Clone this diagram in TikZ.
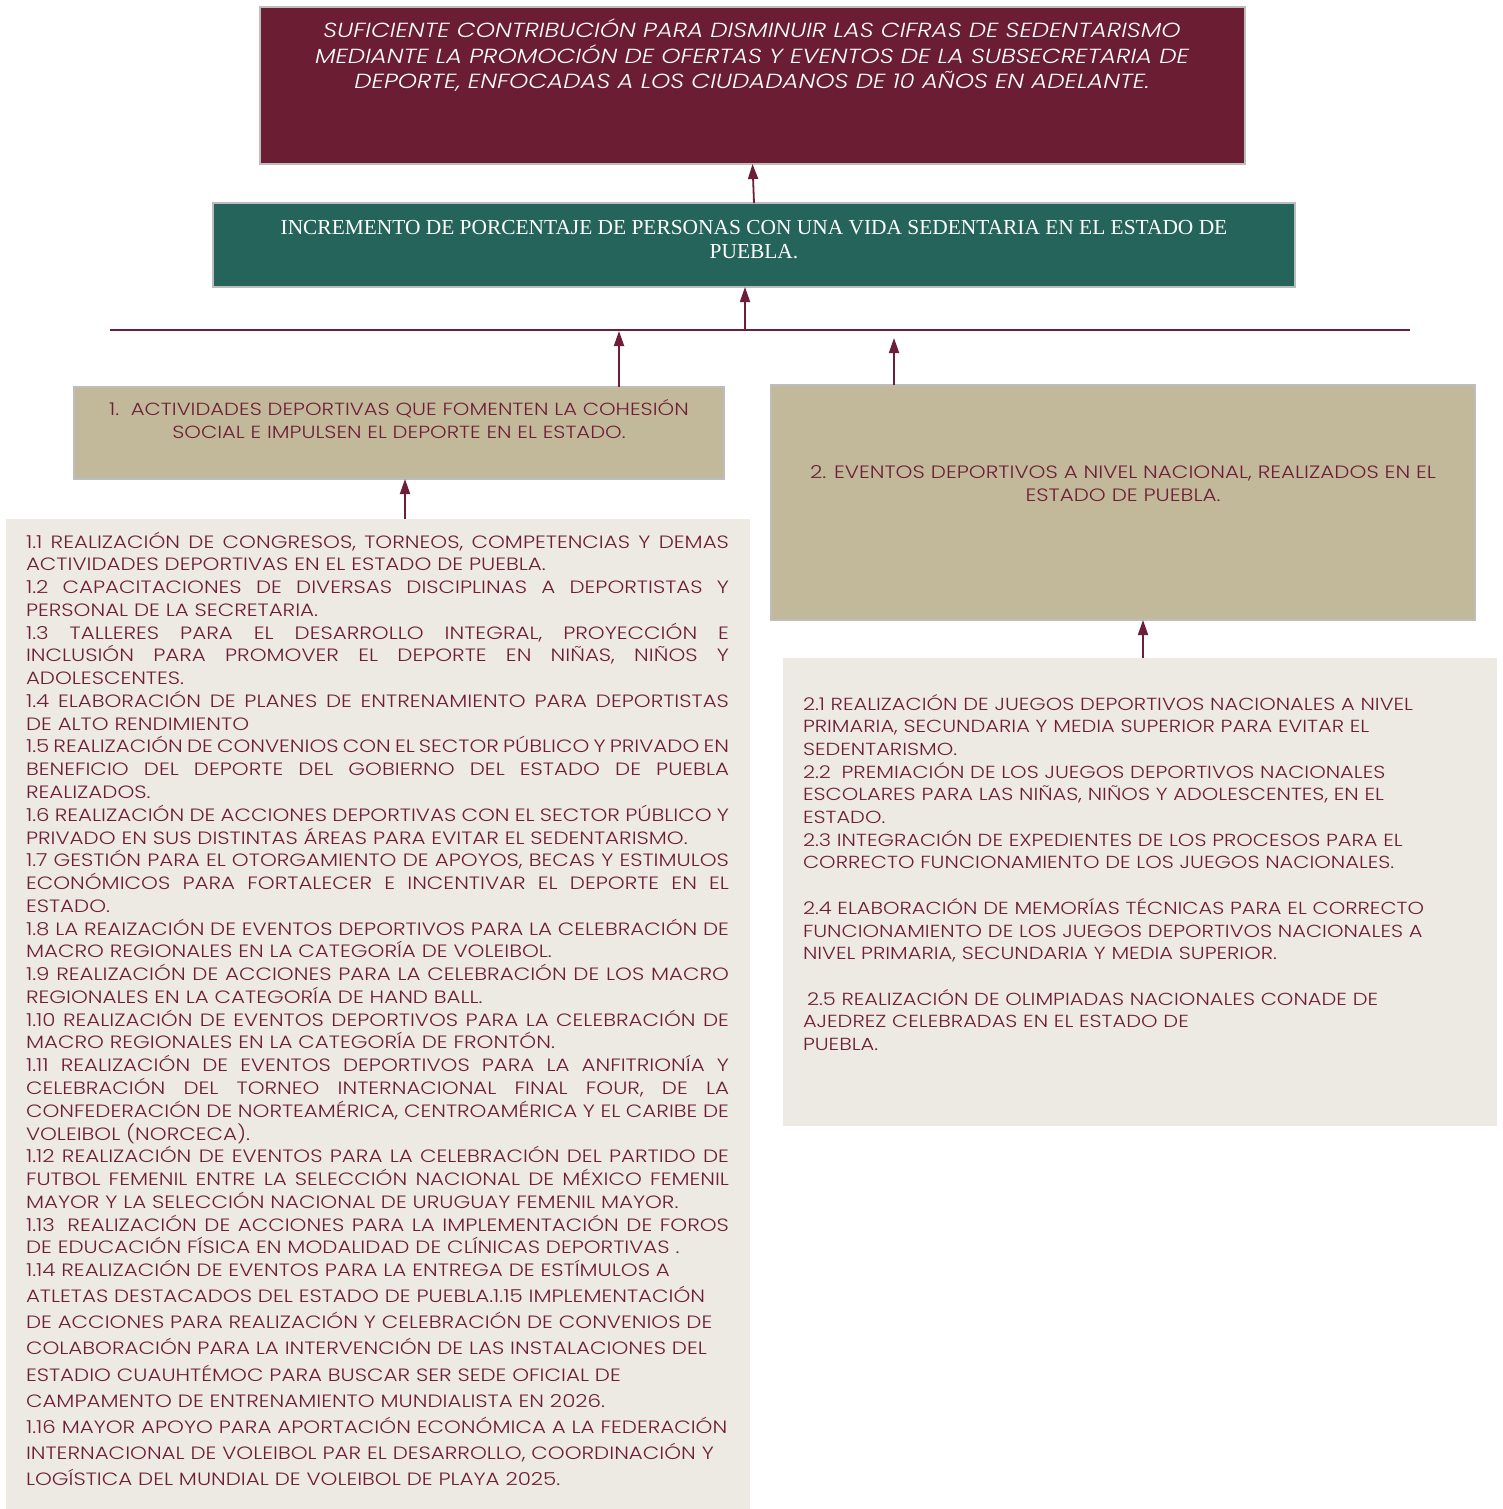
\documentclass[tikz,border=0pt]{standalone}
\usepackage{fontspec}
\setmainfont{Poppins}[FakeStretch=1.2]
\newfontfamily\lightfont{Poppins Light}[FakeStretch=1.2]
\newfontfamily\lightital{Poppins Light Italic}[FakeStretch=1.2]
\newfontfamily\greenserif{Liberation Serif}
\usetikzlibrary{arrows.meta}
\definecolor{goalred}{HTML}{6B1D33}
\definecolor{wine}{HTML}{6E1F37}
\definecolor{tealbox}{HTML}{24645A}
\definecolor{tanbox}{HTML}{C2B99B}
\definecolor{beigebox}{HTML}{EDE9E3}
\definecolor{edgegray}{HTML}{BDBDBD}
\newcommand{\jline}[1]{\hbox to \hsize{#1}}
\newcommand{\rline}[1]{\hbox{#1}}
\newcommand{\ctrline}[1]{\hbox to \hsize{\hfil #1\hfil}}
\begin{document}
\begin{tikzpicture}[x=1pt,y=-1pt,
  boxbase/.style={rectangle, inner sep=0pt, outer sep=0pt, anchor=north west},
  goalbox/.style={boxbase, fill=goalred, draw=edgegray, line width=1.6pt},
  purposebox/.style={boxbase, fill=tealbox, draw=edgegray, line width=1.6pt},
  compbox/.style={boxbase, fill=tanbox, draw=edgegray, line width=1.4pt},
  listbox/.style={boxbase, fill=beigebox},
  arr/.style={draw=wine, line width=1.8pt, -{Triangle[width=10pt,length=15pt]}},
  conn/.style={draw=wine, line width=1.8pt},
  txt/.style={inner sep=0pt, outer sep=0pt, anchor=base},
  txtw/.style={inner sep=0pt, outer sep=0pt, anchor=base west},
]
\fill[white] (0,0) rectangle (1502,1509);
\useasboundingbox (0,0) rectangle (1502,1509);

% boxes
\node[goalbox, minimum width=985pt, minimum height=157pt] (goal) at (260,7) {};
\node[purposebox, minimum width=1082pt, minimum height=84pt] (purpose) at (213,203) {};
\node[compbox, minimum width=650pt, minimum height=92pt] (comp1) at (74,387) {};
\node[compbox, minimum width=704pt, minimum height=235pt] (comp2) at (771,385) {};
\node[listbox, minimum width=744pt, minimum height=991pt] (list1) at (6,519) {};
\node[listbox, minimum width=714pt, minimum height=468pt] (list2) at (783,658) {};

% texts
\node[txt, text=white] (goaltext) at (752,38) {\vtop{\hsize=985pt\lightital
  \fontsize{20.4}{25.5}\selectfont
  \ctrline{SUFICIENTE CONTRIBUCIÓN PARA DISMINUIR LAS CIFRAS DE SEDENTARISMO}
  \ctrline{MEDIANTE LA PROMOCIÓN DE OFERTAS Y EVENTOS DE LA SUBSECRETARIA DE}
  \ctrline{DEPORTE, ENFOCADAS A LOS CIUDADANOS DE 10 AÑOS EN ADELANTE.}}};

\node[txt, text=white] (purposetext) at (754,234) {\vtop{\hsize=1082pt\greenserif
  \fontsize{21.4}{24}\selectfont
  \ctrline{INCREMENTO DE PORCENTAJE DE PERSONAS CON UNA VIDA SEDENTARIA EN EL ESTADO DE}
  \ctrline{PUEBLA.}}};

\node[txt, text=wine] (comp1text) at (399,415.5) {\vtop{\hsize=650pt\lightfont
  \fontsize{17.6}{23}\selectfont
  \ctrline{1.\hspace{4pt} ACTIVIDADES DEPORTIVAS QUE FOMENTEN LA COHESIÓN}
  \ctrline{SOCIAL E IMPULSEN EL DEPORTE EN EL ESTADO.}}};

\node[txt, text=wine] (comp2text) at (1123,478.5) {\vtop{\hsize=704pt\lightfont
  \fontsize{17.9}{23}\selectfont
  \ctrline{2. EVENTOS DEPORTIVOS A NIVEL NACIONAL, REALIZADOS EN EL}
  \ctrline{ESTADO DE PUEBLA.}}};

\node[txtw, text=wine] (list1text) at (26,548) {\vtop{\hsize=703pt\lightfont
  \fontsize{17.85}{22.77}\selectfont
  \jline{1.1 REALIZACIÓN DE CONGRESOS, TORNEOS, COMPETENCIAS Y DEMAS}
  \rline{ACTIVIDADES DEPORTIVAS EN EL ESTADO DE PUEBLA.}
  \jline{1.2 CAPACITACIONES DE DIVERSAS DISCIPLINAS A DEPORTISTAS Y}
  \rline{PERSONAL DE LA SECRETARIA.}
  \jline{1.3 TALLERES PARA EL DESARROLLO INTEGRAL, PROYECCIÓN E}
  \jline{INCLUSIÓN PARA PROMOVER EL DEPORTE EN NIÑAS, NIÑOS Y}
  \rline{ADOLESCENTES.}
  \jline{1.4 ELABORACIÓN DE PLANES DE ENTRENAMIENTO PARA DEPORTISTAS}
  \rline{DE ALTO RENDIMIENTO}
  \jline{1.5 REALIZACIÓN DE CONVENIOS CON EL SECTOR PÚBLICO Y PRIVADO EN}
  \jline{BENEFICIO DEL DEPORTE DEL GOBIERNO DEL ESTADO DE PUEBLA}
  \rline{REALIZADOS.}
  \jline{1.6 REALIZACIÓN DE ACCIONES DEPORTIVAS CON EL SECTOR PÚBLICO Y}
  \rline{PRIVADO EN SUS DISTINTAS ÁREAS PARA EVITAR EL SEDENTARISMO.}
  \jline{1.7 GESTIÓN PARA EL OTORGAMIENTO DE APOYOS, BECAS Y ESTIMULOS}
  \jline{ECONÓMICOS PARA FORTALECER E INCENTIVAR EL DEPORTE EN EL}
  \rline{ESTADO.}
  \jline{1.8 LA REAIZACIÓN DE EVENTOS DEPORTIVOS PARA LA CELEBRACIÓN DE}
  \rline{MACRO REGIONALES EN LA CATEGORÍA DE VOLEIBOL.}
  \jline{1.9 REALIZACIÓN DE ACCIONES PARA LA CELEBRACIÓN DE LOS MACRO}
  \rline{REGIONALES EN LA CATEGORÍA DE HAND BALL.}
  \jline{1.10 REALIZACIÓN DE EVENTOS DEPORTIVOS PARA LA CELEBRACIÓN DE}
  \rline{MACRO REGIONALES EN LA CATEGORÍA DE FRONTÓN.}
  \jline{1.11 REALIZACIÓN DE EVENTOS DEPORTIVOS PARA LA ANFITRIONÍA Y}
  \jline{CELEBRACIÓN DEL TORNEO INTERNACIONAL FINAL FOUR, DE LA}
  \jline{CONFEDERACIÓN DE NORTEAMÉRICA, CENTROAMÉRICA Y EL CARIBE DE}
  \rline{VOLEIBOL (NORCECA).}
  \jline{1.12 REALIZACIÓN DE EVENTOS PARA LA CELEBRACIÓN DEL PARTIDO DE}
  \jline{FUTBOL FEMENIL ENTRE LA SELECCIÓN NACIONAL DE MÉXICO FEMENIL}
  \rline{MAYOR Y LA SELECCIÓN NACIONAL DE URUGUAY FEMENIL MAYOR.}
  \jline{1.13\hspace{5pt} REALIZACIÓN DE ACCIONES PARA LA IMPLEMENTACIÓN DE FOROS}
  \rline{DE EDUCACIÓN FÍSICA EN MODALIDAD DE CLÍNICAS DEPORTIVAS .}
  \rline{1.14 REALIZACIÓN DE EVENTOS PARA LA ENTREGA DE ESTÍMULOS A}
  \baselineskip=26.1pt
  \rline{ATLETAS DESTACADOS DEL ESTADO DE PUEBLA.1.15 IMPLEMENTACIÓN}
  \rline{DE ACCIONES PARA REALIZACIÓN Y CELEBRACIÓN DE CONVENIOS DE}
  \rline{COLABORACIÓN PARA LA INTERVENCIÓN DE LAS INSTALACIONES DEL}
  \rline{ESTADIO CUAUHTÉMOC PARA BUSCAR SER SEDE OFICIAL DE}
  \rline{CAMPAMENTO DE ENTRENAMIENTO MUNDIALISTA EN 2026.}
  \rline{1.16 MAYOR APOYO PARA APORTACIÓN ECONÓMICA A LA FEDERACIÓN}
  \rline{INTERNACIONAL DE VOLEIBOL PAR EL DESARROLLO, COORDINACIÓN Y}
  \rline{LOGÍSTICA DEL MUNDIAL DE VOLEIBOL DE PLAYA 2025.}}};

\node[txtw, text=wine] (list2text) at (803,710) {\vtop{\hsize=690pt\lightfont
  \fontsize{17.5}{22.7}\selectfont
  \rline{2.1 REALIZACIÓN DE JUEGOS DEPORTIVOS NACIONALES A NIVEL}
  \rline{PRIMARIA, SECUNDARIA Y MEDIA SUPERIOR PARA EVITAR EL}
  \rline{SEDENTARISMO.}
  \rline{2.2\hspace{5pt} PREMIACIÓN DE LOS JUEGOS DEPORTIVOS NACIONALES}
  \rline{ESCOLARES PARA LAS NIÑAS, NIÑOS Y ADOLESCENTES, EN EL}
  \rline{ESTADO.}
  \rline{2.3 INTEGRACIÓN DE EXPEDIENTES DE LOS PROCESOS PARA EL}
  \rline{CORRECTO FUNCIONAMIENTO DE LOS JUEGOS NACIONALES.}
  \rline{}
  \rline{2.4 ELABORACIÓN DE MEMORÍAS TÉCNICAS PARA EL CORRECTO}
  \rline{FUNCIONAMIENTO DE LOS JUEGOS DEPORTIVOS NACIONALES A}
  \rline{NIVEL PRIMARIA, SECUNDARIA Y MEDIA SUPERIOR.}
  \rline{}
  \rline{\hspace{4pt}2.5 REALIZACIÓN DE OLIMPIADAS NACIONALES CONADE DE}
  \rline{AJEDREZ CELEBRADAS EN EL ESTADO DE}
  \rline{PUEBLA.}}};

% connector points
\coordinate (hl) at (110,330);
\coordinate (hr) at (1410,330);
\coordinate (jmid) at (745,330);
\coordinate (j1) at (619,331);
\coordinate (j2) at (894,338);
\coordinate (j3) at (405,0);
\coordinate (j4) at (1143,0);

% connectors
\draw[arr] (purpose.north) -- (goal.south);
\draw[conn] (hl) -- (hr);
\draw[arr] (jmid) -- (jmid |- purpose.south);
\draw[arr] (comp1.north -| j1) -- (j1);
\draw[arr] (comp2.north -| j2) -- (j2);
\draw[arr] (list1.north -| j3) -- (comp1.south -| j3);
\draw[arr] (list2.north -| j4) -- (comp2.south -| j4);
\end{tikzpicture}
\end{document}
